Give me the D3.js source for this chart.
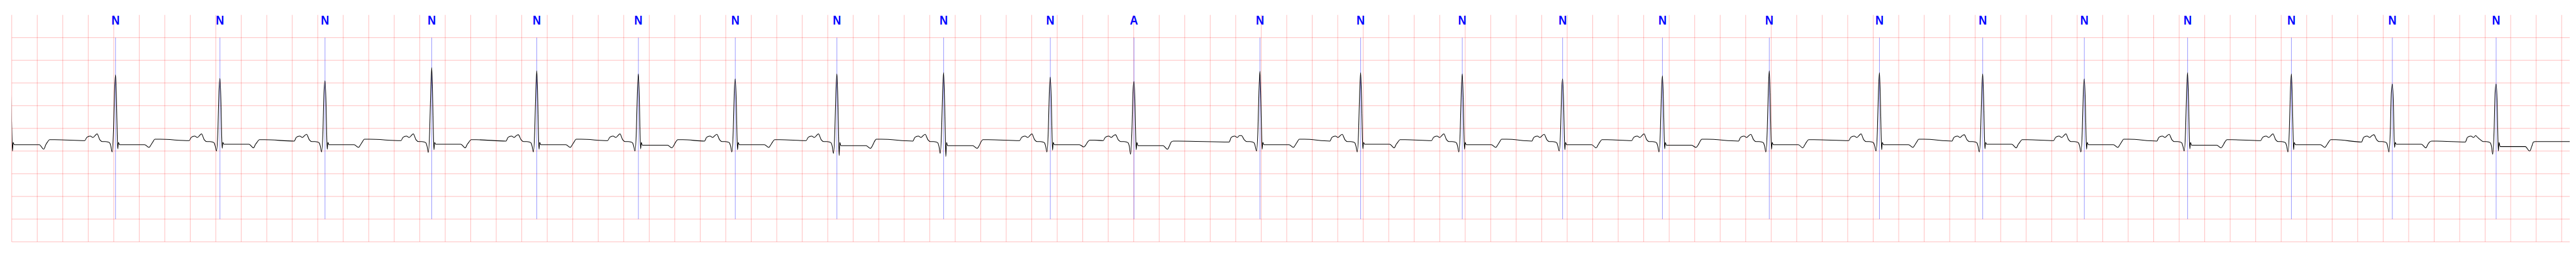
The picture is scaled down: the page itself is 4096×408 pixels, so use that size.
<!DOCTYPE html>
<html>
<head>
<meta charset="utf-8">
<script src="https://cdn.jsdelivr.net/npm/d3@7"></script>
<style>
  html, body { margin: 0; padding: 0; background: #ffffff; }
  svg { display: block; }
</style>
</head>
<body>
<svg id="chart" width="4096" height="408"></svg>
<script>
// ---------------- DATA (seconds / mV) ----------------
// R-peak times; index 0 is the tail of a beat just before the strip starts
const rTimes = [-0.012, 0.814, 1.633, 2.457, 3.294, 4.118, 4.915, 5.675, 6.472, 7.309, 8.146,
                8.802, 9.790, 10.580, 11.377, 12.164, 12.947, 13.785, 14.649, 15.459, 16.256,
                17.066, 17.880, 18.672, 19.486];
// beat annotation symbols for rTimes[1..]
const beatLabels = ["N","N","N","N","N","N","N","N","N","N","A","N","N","N","N","N","N","N","N","N","N","N","N","N"];

const rAmp    = [1.20, 1.18, 1.10, 1.05, 1.34, 1.27, 1.20, 1.09, 1.20, 1.23, 1.13, 1.03, 1.26, 1.23, 1.20, 1.09, 1.16, 1.27, 1.23, 1.20, 1.09, 1.23, 1.20, 0.98, 0.98];
const qAmp    = [-0.50, -0.52, -0.50, -0.52, -0.53, -0.52, -0.50, -0.52, -0.55, -0.55, -0.52, -0.57, -0.50, -0.52, -0.52, -0.50, -0.52, -0.52, -0.50, -0.52, -0.52, -0.50, -0.52, -0.52, -0.57];
const sAmp    = [-0.50, -0.45, -0.44, -0.46, -0.47, -0.46, -0.45, -0.47, -0.60, -0.62, -0.48, -0.47, -0.46, -0.45, -0.46, -0.47, -0.45, -0.46, -0.47, -0.45, -0.46, -0.45, -0.47, -0.42, -0.50];
const stLevel = [-0.36, -0.36, -0.35, -0.36, -0.35, -0.36, -0.37, -0.36, -0.38, -0.38, -0.36, -0.38, -0.36, -0.35, -0.36, -0.36, -0.37, -0.36, -0.36, -0.35, -0.36, -0.37, -0.36, -0.35, -0.40];
const dipLevel= [-0.46, -0.42, -0.43, -0.42, -0.43, -0.42, -0.43, -0.42, -0.44, -0.44, -0.41, -0.46, -0.42, -0.43, -0.42, -0.43, -0.42, -0.43, -0.42, -0.43, -0.42, -0.43, -0.42, -0.43, -0.50];
const plStart = [-0.25, -0.24, -0.25, -0.24, -0.25, -0.24, -0.25, -0.25, -0.24, -0.25, -0.26, -0.28, -0.24, -0.25, -0.24, -0.25, -0.24, -0.25, -0.24, -0.25, -0.24, -0.25, -0.25, -0.28, -0.29];
const plEnd   = [null, -0.27, -0.27, -0.28, -0.27, -0.28, -0.27, -0.28, -0.27, -0.28, -0.27, -0.27, -0.30, -0.28, -0.27, -0.28, -0.27, -0.28, -0.27, -0.28, -0.27, -0.28, -0.27, -0.30, -0.30];
const pAmp    = [null, -0.12, -0.12, -0.13, -0.12, -0.14, -0.12, -0.13, -0.12, -0.13, -0.12, -0.14, -0.16, -0.13, -0.12, -0.13, -0.12, -0.13, -0.12, -0.14, -0.12, -0.13, -0.12, -0.14, -0.20];

// waveform landmarks: [offset from R (s), level (mV) or name of the per-beat array]
const preR = [[-0.2415, "plEnd"], [-0.2254, -0.20], [-0.1986, -0.17], [-0.1771, -0.20], [-0.1610, -0.16],
              [-0.1449, "pAmp"], [-0.1234, -0.25], [-0.1020, -0.29], [-0.0805, -0.29], [-0.0590, -0.30],
              [-0.0456, -0.32], [-0.0362, -0.40], [-0.0268, "qAmp"], [-0.0161, -0.05], [-0.0080, 0.80]];
const postR = [[0.0080, 0.55], [0.0134, -0.15], [0.0174, "sAmp"], [0.0228, -0.31], [0.0309, "stLevel"],
               [0.1340, "stLevel"], [0.2281, "stLevel"], [0.2630, "dipLevel"], [0.2790, "stLevel"],
               [0.2925, -0.30], [0.3086, "plStart"], [0.3489, "plStart"]];
const stripEnd = [20.063, -0.29];

// axis / grid settings
const timeDomain = [0, 20.063];
const mvDomain = [-2.5, 2.5];
const timeGrid = d3.range(0, 20.0001, 0.2);
const mvGrid = d3.range(-2.5, 2.0001, 0.5);
const annTop = 2.0, annBottom = -2.0;

// ---------------- DRAW ----------------
const perBeat = {rAmp, qAmp, sAmp, stLevel, dipLevel, plStart, plEnd, pAmp};
const svg = d3.select("#chart");
const L = 18.7, R = 4086.0, T = 23.7, B = 383.9;
const x = d3.scaleLinear().domain(timeDomain).range([L, R]);
const y = d3.scaleLinear().domain(mvDomain).range([B, T]);

svg.append("rect").attr("width", 4096).attr("height", 408).attr("fill", "#ffffff");
svg.append("defs").append("clipPath").attr("id", "plotclip")
  .append("rect").attr("x", L).attr("y", T).attr("width", R - L).attr("height", B - T);

const grid = svg.append("g").attr("stroke", "red").attr("stroke-opacity", 0.25).attr("stroke-width", 1);
grid.selectAll("line.v").data(timeGrid).join("line")
  .attr("x1", d => x(d)).attr("x2", d => x(d)).attr("y1", T).attr("y2", B);
grid.selectAll("line.h").data(mvGrid).join("line")
  .attr("x1", L).attr("x2", R).attr("y1", d => y(d)).attr("y2", d => y(d));

// build trace points
const pts = [];
const val = (v, i) => (typeof v === "string" ? perBeat[v][i] : v);
rTimes.forEach((t, i) => {
  if (i > 0) preR.forEach(([dt, v]) => pts.push([t + dt, val(v, i)]));
  pts.push([t, rAmp[i]]);
  postR.forEach(([dt, v]) => pts.push([t + dt, val(v, i)]));
});
pts.push(stripEnd);

const annData = rTimes.slice(1).map((t, i) => ({t, label: beatLabels[i]}));

svg.append("g").selectAll("line").data(annData).join("line")
  .attr("x1", d => x(d.t)).attr("x2", d => x(d.t))
  .attr("y1", y(annTop)).attr("y2", y(annBottom))
  .attr("stroke", "blue").attr("stroke-opacity", 0.5).attr("stroke-width", 0.8);

const line = d3.line().x(d => x(d[0])).y(d => y(d[1])).curve(d3.curveMonotoneX);
svg.append("path").datum(pts)
  .attr("clip-path", "url(#plotclip)")
  .attr("d", line)
  .attr("fill", "none").attr("stroke", "#000").attr("stroke-width", 1.05)
  .attr("stroke-linejoin", "round");

svg.append("g").selectAll("text").data(annData).join("text")
  .attr("transform", d => `translate(${x(d.t)},38.8) scale(0.86,1)`)
  .attr("text-anchor", "middle")
  .attr("font-family", "'Liberation Sans', Arial, sans-serif")
  .attr("font-weight", "bold").attr("font-size", "21px")
  .attr("fill", "blue")
  .text(d => d.label);
</script>
</body>
</html>
